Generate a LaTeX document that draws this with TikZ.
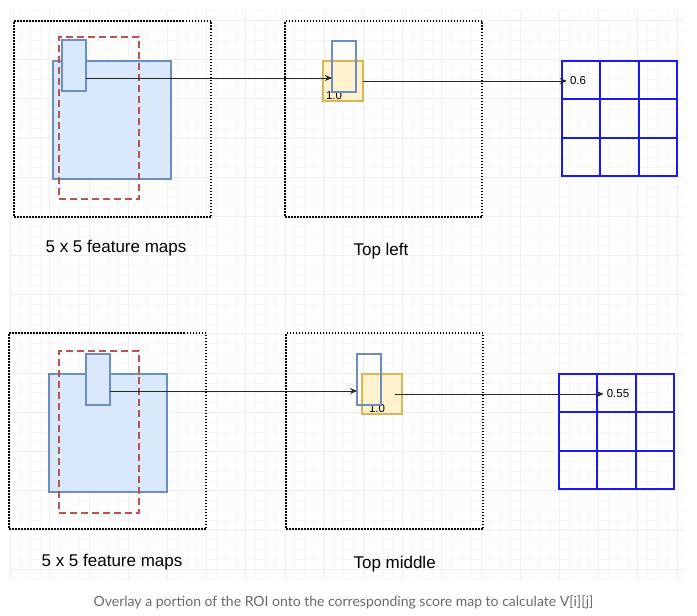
\documentclass[tikz,border=0pt]{standalone}
\usepackage{fontspec}
\setmainfont{Liberation Sans}
\newfontfamily\captionfont{Lato}
\usetikzlibrary{arrows.meta}
\definecolor{roiblue}{HTML}{DAE8FC}
\definecolor{roiedge}{HTML}{6C8EBF}
\definecolor{binfill}{HTML}{FFF2CC}
\definecolor{binedge}{HTML}{D6B656}
\definecolor{roired}{HTML}{B85450}
\definecolor{scoreblue}{HTML}{1A1AF0}
\definecolor{capgrey}{HTML}{6B6B6B}

\begin{document}
\begin{tikzpicture}[x=1pt,y=-1pt,>={Stealth[length=7pt,width=6pt]},
    box/.style={inner sep=0pt,outer sep=0pt,anchor=north west},
    panel/.style={box,draw=black,line width=1.8pt,dash pattern=on 1.5pt off 1.5pt,
                  minimum width=197pt,minimum height=196pt},
    fmap/.style={box,draw=roiedge,fill=roiblue,line width=1.4pt,minimum width=118pt,minimum height=118pt},
    roi/.style={box,draw=roired,line width=1.4pt,dash pattern=on 7pt off 4pt,
                minimum width=80pt,minimum height=162pt},
    bin/.style={box,draw=roiedge,line width=1.4pt,minimum width=24pt,minimum height=51pt},
    score/.style={box,draw=binedge,fill=binfill,line width=1.4pt,minimum width=40pt,minimum height=40pt},
    cell/.style={box,draw=scoreblue,line width=1.8pt,minimum width=38.3pt,minimum height=38.3pt},
    maplabel/.style={font=\fontsize{17}{20}\selectfont},
    valtext/.style={font=\fontsize{11.5}{13}\selectfont,inner sep=3pt},
    link/.style={->,draw=black!85,line width=0.9pt}]
    \useasboundingbox (0,0) rectangle (697,616);
    \fill[white] (0,0) rectangle (697,616);
    % faint drawing grid behind everything
    \begin{scope}
        \clip (10,10) rectangle (683,580);
        \foreach \i in {0,...,69}
            \draw[black!3,line width=0.6pt] ({10.5+9.8*\i},10) -- ({10.5+9.8*\i},580);
        \foreach \j in {0,...,58}
            \draw[black!3,line width=0.6pt] (10,{10.4+9.8*\j}) -- (683,{10.4+9.8*\j});
        \foreach \i in {0,...,17}
            \draw[black!6,line width=0.8pt] ({10.5+39.2*\i},10) -- ({10.5+39.2*\i},580);
        \foreach \j in {0,...,14}
            \draw[black!6,line width=0.8pt] (10,{20.2+39.2*\j}) -- (683,{20.2+39.2*\j});
    \end{scope}

    % top row: the top left bin
    \node[panel] (panelA) at (14,21) {};
    \node[fmap] (fmapA) at (53,61) {};
    \node[roi] (roiA) at (59,37) {};
    \node[bin,fill=roiblue] (binA) at (62,40) {};
    \node[panel] (panelB) at (285,21) {};
    \node[score] (poolA) at (323,61) {};
    \node[valtext] (oneA) at (334,96) {1.0};
    \node[bin] (projA) at (332,41) {};
    % 3 x 3 score map
    \foreach \r in {0,1,2}
        \foreach \c in {0,1,2}
            \node[cell] (gridA-\r\c) at ({562+38.3*\c},{61+38.3*\r}) {};
    \node[valtext] (valA) at (578,81) {0.6};
    \node[maplabel] (featA) at (116,248) {5 x 5 feature maps};
    \node[maplabel,anchor=west] (posA) at (350,251) {Top left};
    \coordinate (yA) at (0,78);
    \draw[link] (binA.east |- yA) -- (projA.west |- yA);
    \draw[link] (poolA.east) -- (valA.west);

    % bottom row: the top middle bin
    \node[panel] (panelC) at (9,333) {};
    \node[fmap] (fmapC) at (49,374) {};
    \node[roi] (roiC) at (59,351) {};
    \node[bin,fill=roiblue] (binC) at (86,354) {};
    \node[panel] (panelD) at (286,333) {};
    \node[score] (poolD) at (362,374) {};
    \node[valtext] (oneD) at (377,409) {1.0};
    \node[bin] (projD) at (357,354) {};
    \foreach \r in {0,1,2}
        \foreach \c in {0,1,2}
            \node[cell] (gridD-\r\c) at ({559+38.3*\c},{374+38.3*\r}) {};
    \node[valtext] (valD) at (618,394) {0.55};
    \node[maplabel] (featC) at (112,562) {5 x 5 feature maps};
    \node[maplabel,anchor=west] (posD) at (350,564) {Top middle};
    \coordinate (yC) at (0,391);
    \draw[link] (binC.east |- yC) -- (projD.west |- yC);
    \draw[link] ([xshift=-7pt]poolD.east) -- (valD.west);

    % caption under the figure
    \node[font=\captionfont\fontsize{14}{16}\selectfont,text=capgrey] (caption) at (343.5,602)
        {Overlay a portion of the ROI onto the corresponding score map to calculate V[i][j]};
\end{tikzpicture}
\end{document}
